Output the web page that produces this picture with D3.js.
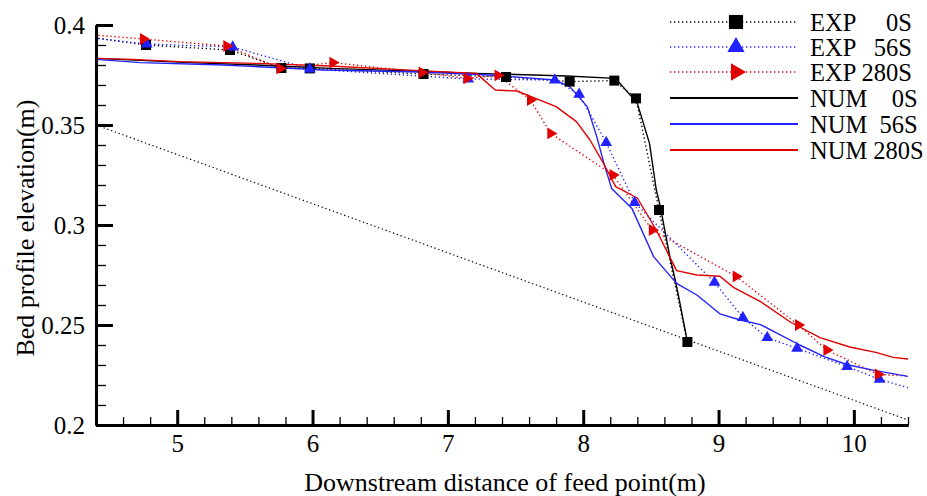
<!DOCTYPE html>
<html>
<head>
<meta charset="utf-8">
<script src="https://cdnjs.cloudflare.com/ajax/libs/d3/7.8.5/d3.min.js"></script>
<style>
  body { margin: 0; background: #fff; }
  svg { display: block; font-family: "Liberation Serif", "Times New Roman", serif; }
</style>
</head>
<body>
<div id="chart"></div>
<script>
// data: [distance (m), elevation (m)]
const exp0S = [[4.3, 0.3945], [4.77, 0.390], [5.39, 0.3875], [5.77, 0.3785], [5.98, 0.3783], [6.82, 0.3755],
  [7.43, 0.374], [7.90, 0.3717], [8.23, 0.3722], [8.39, 0.3633], [8.56, 0.3075], [8.77, 0.2415]];
const exp56S = [[4.3, 0.394], [4.775, 0.3905], [5.41, 0.389], [5.98, 0.378], [7.15, 0.373], [7.79, 0.3725],
  [7.97, 0.3653], [8.17, 0.3412], [8.38, 0.3112], [8.97, 0.2713], [9.18, 0.2537], [9.36, 0.2437],
  [9.58, 0.2383], [9.95, 0.2292], [10.19, 0.2228], [10.5, 0.2167]];
const exp280S = [[4.3, 0.3955], [4.75, 0.393], [5.366, 0.3895], [5.76, 0.3783], [6.15, 0.3812], [6.81, 0.3763],
  [7.14, 0.3733], [7.37, 0.3748], [7.61, 0.3625], [7.76, 0.3458], [8.22, 0.325], [8.51, 0.2975],
  [9.13, 0.2743], [9.59, 0.250], [9.80, 0.2375], [10.18, 0.2253], [10.5, 0.2241]];
const num0S = [[4.4, 0.3833], [5.09, 0.3812], [5.59, 0.380], [6.13, 0.3783], [6.65, 0.3772], [7.21, 0.3758],
  [7.88, 0.3745], [8.24, 0.3733], [8.40, 0.3608], [8.49, 0.3408], [8.54, 0.3175], [8.57, 0.3092],
  [8.64, 0.2842], [8.68, 0.2725], [8.71, 0.2625], [8.77, 0.2415]];
const num56S = [[4.4, 0.3828], [4.73, 0.3812], [5.34, 0.380], [6.08, 0.3775], [6.8, 0.3765], [7.31, 0.375],
  [7.79, 0.3725], [7.90, 0.3692], [8.03, 0.3592], [8.10, 0.3442], [8.16, 0.3292], [8.21, 0.3183],
  [8.36, 0.3083], [8.52, 0.2842], [8.69, 0.2708], [8.84, 0.265], [9.01, 0.2556], [9.16, 0.2525],
  [9.31, 0.2502], [9.41, 0.2467], [9.60, 0.240], [9.78, 0.2342], [9.96, 0.230], [10.15, 0.2273], [10.4, 0.2243]];
const num280S = [[4.4, 0.3833], [4.67, 0.3828], [5.02, 0.3817], [5.59, 0.3808], [6.13, 0.3795], [6.79, 0.3772],
  [7.21, 0.3758], [7.35, 0.3675], [7.51, 0.367], [7.80, 0.3592], [7.95, 0.3517], [8.05, 0.3425],
  [8.15, 0.3308], [8.24, 0.3192], [8.40, 0.3135], [8.54, 0.2975], [8.69, 0.2772], [8.84, 0.275],
  [9.01, 0.2744], [9.11, 0.2688], [9.31, 0.2617], [9.53, 0.2515], [9.75, 0.2437], [9.97, 0.239],
  [10.17, 0.2362], [10.29, 0.2338], [10.4, 0.233]];
const slopeLine = [[4.4, 0.35], [10.4, 0.2025]];

const xTicks = [5, 6, 7, 8, 9, 10];
const yTicks = [0.2, 0.25, 0.3, 0.35, 0.4];
const yTickLabels = ["0.2", "0.25", "0.3", "0.35", "0.4"];
const legendNames = ["EXP     0S", "EXP   56S", "EXP 280S", "NUM    0S", "NUM  56S", "NUM 280S"];

const WIDTH = 927, HEIGHT = 496;
const LEFT = 96, RIGHT = 908, TOP = 25, BOTTOM = 425;
const BLACK = "#000000", BLUE = "#2222ff", RED = "#e00000";

const x = d3.scaleLinear().domain([4.4, 10.4]).range([LEFT, RIGHT]);
const y = d3.scaleLinear().domain([0.2, 0.4]).range([BOTTOM, TOP]);

const svg = d3.select("#chart").append("svg")
  .attr("width", WIDTH)
  .attr("height", HEIGHT);

svg.append("rect").attr("width", WIDTH).attr("height", HEIGHT).attr("fill", "#fff");

svg.append("clipPath").attr("id", "plotClip")
  .append("rect")
  .attr("x", LEFT).attr("y", TOP - 10)
  .attr("width", RIGHT - LEFT).attr("height", BOTTOM - TOP + 10);

const plot = svg.append("g").attr("clip-path", "url(#plotClip)");
const line = d3.line().x(d => x(d[0])).y(d => y(d[1]));

//series definitions
const series = [
  { data: exp0S, color: BLACK, dotted: true, marker: "square" },
  { data: exp56S, color: BLUE, dotted: true, marker: "up" },
  { data: exp280S, color: RED, dotted: true, marker: "right" },
  { data: num0S, color: BLACK, dotted: false },
  { data: num56S, color: BLUE, dotted: false },
  { data: num280S, color: RED, dotted: false }
];

const markerPath = (type, big) => {
  if (type === "square") return d3.symbol(d3.symbolSquare, big ? 200 : 100)();
  return d3.symbol(d3.symbolTriangle, big ? 130 : 60)();
};
const markerRotate = type => type === "right" ? 90 : 0;

//initial slope line
plot.append("path")
  .attr("d", line(slopeLine))
  .attr("fill", "none")
  .attr("stroke", BLACK)
  .attr("stroke-width", 1.2)
  .attr("stroke-dasharray", "1.3,2.7");

series.filter(s => s.dotted).forEach(s => {
  plot.append("path")
    .attr("d", line(s.data))
    .attr("fill", "none")
    .attr("stroke", s.color)
    .attr("stroke-width", 1.4)
    .attr("stroke-dasharray", "1.3,2.7");
});

series.filter(s => !s.dotted).forEach(s => {
  plot.append("path")
    .attr("d", line(s.data))
    .attr("fill", "none")
    .attr("stroke", s.color)
    .attr("stroke-width", 1.4)
    .attr("stroke-linejoin", "round");
});

series.filter(s => s.marker).forEach(s => {
  plot.selectAll(null)
    .data(s.data)
    .enter()
    .append("path")
    .attr("d", markerPath(s.marker, false))
    .attr("transform", d => `translate(${x(d[0])},${y(d[1])}) rotate(${markerRotate(s.marker)})`)
    .attr("fill", s.color);
});

//axes
const styleAxis = (g, major) => {
  g.select(".domain").attr("stroke", BLACK).attr("stroke-width", 3);
  g.selectAll(".tick line").attr("stroke", BLACK).attr("stroke-width", major ? 3 : 1.3);
  g.selectAll(".tick text").attr("fill", BLACK).style("font-size", "25px")
    .style("font-family", "'Liberation Serif', 'Times New Roman', serif");
};

svg.append("g")
  .attr("transform", `translate(0,${BOTTOM})`)
  .call(d3.axisBottom(x).tickValues(d3.range(4.6, 10.41, 0.2)).tickSize(-8).tickSizeOuter(0).tickFormat(""))
  .call(g => styleAxis(g, false));
svg.append("g")
  .attr("transform", `translate(${LEFT},0)`)
  .call(d3.axisLeft(y).tickValues(d3.range(0.21, 0.40, 0.01)).tickSize(-10).tickSizeOuter(0).tickFormat(""))
  .call(g => styleAxis(g, false));

svg.append("g")
  .attr("transform", `translate(0,${BOTTOM})`)
  .call(d3.axisBottom(x).tickValues(xTicks).tickSize(-15).tickSizeOuter(0).tickPadding(9).tickFormat(d3.format("d")))
  .call(g => styleAxis(g, true));
svg.append("g")
  .attr("transform", `translate(${LEFT},0)`)
  .call(d3.axisLeft(y).tickValues(yTicks).tickSize(-17).tickSizeOuter(0).tickPadding(11)
    .tickFormat((d, i) => yTickLabels[i]))
  .call(g => styleAxis(g, true));

//axis titles
svg.append("text")
  .attr("x", (LEFT + RIGHT) / 2 + 3)
  .attr("y", 491)
  .attr("text-anchor", "middle")
  .style("font-size", "26px")
  .text("Downstream distance of feed point(m)");

svg.append("text")
  .attr("transform", "translate(34,228) rotate(-90)")
  .attr("text-anchor", "middle")
  .style("font-size", "26px")
  .text("Bed profile elevation(m)");

//legend
const legend = svg.append("g");
const legendY = [22, 47, 72, 98, 124, 150];

series.forEach((s, i) => {
  const row = legend.append("g").attr("transform", `translate(0,${legendY[i]})`);
  row.append("line")
    .attr("x1", 670).attr("x2", 798)
    .attr("stroke", s.color)
    .attr("stroke-width", s.dotted ? 1.4 : 2)
    .attr("stroke-dasharray", s.dotted ? "1.3,2.7" : null);
  if (s.marker) {
    row.append("path")
      .attr("d", markerPath(s.marker, true))
      .attr("transform", `translate(736,0) rotate(${markerRotate(s.marker)})`)
      .attr("fill", s.color);
  }
  row.append("text")
    .attr("x", 810)
    .attr("y", 9)
    .style("font-size", "24.5px")
    .style("white-space", "pre")
    .text(legendNames[i]);
});
</script>
</body>
</html>
